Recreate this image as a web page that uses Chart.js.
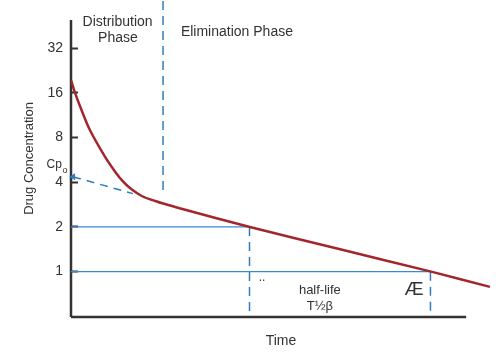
<!DOCTYPE html>
<html>
<head>
<meta charset="utf-8">
<script src="https://cdn.jsdelivr.net/npm/chart.js@4/dist/chart.umd.min.js"></script>
<style>
  html, body { margin: 0; padding: 0; background: #fff; }
  #wrap { width: 500px; height: 352px; }
</style>
</head>
<body>
<div id="wrap"><canvas id="pk"></canvas></div>
<script>
// plasma curve (time in arbitrary units)
const curveTime = [0, 0.11, 0.3, 0.54, 0.97, 1.26, 1.49, 1.73, 2.02, 2.4, 2.78, 3.21, 5.11, 7.69, 10.29, 11.97];
const curveConc = [19.5, 16.1, 12.25, 8.98, 5.94, 4.71, 4.03, 3.58, 3.23, 2.99, 2.81, 2.63, 2.0, 1.414, 1.0, 0.79];

// back-extrapolation of the elimination line to Cp0
const backTime = [0.06, 1.77];
const backConc = [4.35, 3.35];

const yTicks = [1, 2, 4, 8, 16, 32];
const yMin = 0.495, yMax = 67.4;
const xMax = 12;

const phaseSplit = 2.63, phaseSplitLow = 3.54;
const halfStart = 5.1, halfEnd = 10.27;
const halfHigh = 2, halfLow = 1;
const axisTop = 49.4, axisEnd = 11.29;

const ink = "#333";
const red = "#a3262c";
const blue = "#2f7dc0";
const thinBlue = "#3a8ad0";
const font = "'Liberation Sans', Arial, Helvetica, sans-serif";

const notes = [
  { text: "Distribution", x: 1.33, y: 47.9, size: 14 },
  { text: "Phase", x: 1.34, y: 37.4, size: 14 },
  { text: "Elimination Phase", x: 3.14, y: 41.0, size: 14, align: "left" },
  { text: "Cp", x: -0.26, y: 5.22, size: 12, align: "right" },
  { text: "o", x: -0.24, y: 4.76, size: 9, align: "left" },
  { text: "half-life", x: 7.11, y: 0.752, size: 13 },
  { text: "T½β", x: 7.11, y: 0.587, size: 13 },
  { text: "Æ", x: 9.8, y: 0.752, size: 19 },
  { text: "..", x: 5.46, y: 0.906, size: 12 }
];

function pts(xs, ys) {
  return xs.map((x, i) => ({ x: x, y: ys[i] }));
}

function segment(x1, y1, x2, y2, color, width, dash) {
  return {
    data: [{ x: x1, y: y1 }, { x: x2, y: y2 }],
    borderColor: color,
    borderWidth: width,
    borderDash: dash || [],
    pointRadius: 0,
    tension: 0,
    clip: false
  };
}

const notesPlugin = {
  id: "notes",
  afterDraw(chart) {
    const ctx = chart.ctx;
    const sx = chart.scales.x, sy = chart.scales.y;
    ctx.save();
    ctx.fillStyle = ink;
    ctx.textBaseline = "middle";
    notes.forEach(n => {
      ctx.font = n.size + "px " + font;
      ctx.textAlign = n.align || "center";
      ctx.fillText(n.text, sx.getPixelForValue(n.x), sy.getPixelForValue(n.y));
    });
    ctx.restore();
  }
};

new Chart(document.getElementById("pk"), {
  type: "line",
  data: {
    datasets: [
      {
        data: pts(curveTime, curveConc),
        borderColor: red,
        borderWidth: 2.5,
        pointRadius: 0,
        tension: 0.3
      },
      {
        data: pts(backTime, backConc),
        borderColor: blue,
        backgroundColor: blue,
        borderWidth: 1.5,
        borderDash: [8, 6],
        pointRadius: [2.5, 0],
        pointStyle: "triangle",
        rotation: 270,
        clip: false
      },
      segment(phaseSplit, phaseSplitLow, phaseSplit, yMax, blue, 1.5, [9, 6]),
      segment(halfStart, halfHigh, halfStart, yMin, blue, 1.5, [9, 6]),
      segment(halfEnd, halfLow, halfEnd, yMin, blue, 1.5, [9, 6]),
      segment(0, halfHigh, halfStart, halfHigh, thinBlue, 1.2),
      segment(0, halfLow, halfEnd, halfLow, thinBlue, 1.2),
      segment(0, yMin, 0, axisTop, ink, 2.5),
      segment(0, yMin, axisEnd, yMin, ink, 2.5)
    ]
  },
  options: {
    responsive: true,
    maintainAspectRatio: false,
    animation: false,
    layout: { autoPadding: false, padding: { left: 0, right: 9, top: 0, bottom: 0 } },
    plugins: {
      legend: { display: false },
      tooltip: { enabled: false }
    },
    scales: {
      x: {
        type: "linear",
        min: 0,
        max: xMax,
        ticks: { display: false },
        grid: { display: false },
        border: { display: false },
        title: {
          display: true,
          text: "Time",
          color: ink,
          font: { family: font, size: 14 },
          padding: { top: 0, bottom: 2 }
        },
        afterFit(scale) {
          scale.height = 35;
          scale.paddingLeft = 0;
          scale.paddingRight = 0;
        }
      },
      y: {
        type: "logarithmic",
        min: yMin,
        max: yMax,
        afterBuildTicks(scale) {
          scale.ticks = yTicks.map(v => ({ value: v }));
        },
        ticks: {
          color: ink,
          font: { family: font, size: 14 },
          padding: 15,
          callback: v => String(v)
        },
        grid: {
          drawOnChartArea: false,
          drawTicks: true,
          tickLength: -7,
          tickColor: ink,
          tickWidth: 2
        },
        border: { display: false },
        title: {
          display: true,
          text: "Drug Concentration",
          color: ink,
          font: { family: font, size: 13 },
          padding: { top: 22, bottom: 0 }
        },
        afterFit(scale) {
          scale.width = 71;
          scale.paddingTop = 0;
          scale.paddingBottom = 0;
        }
      }
    }
  },
  plugins: [notesPlugin]
});
</script>
</body>
</html>
